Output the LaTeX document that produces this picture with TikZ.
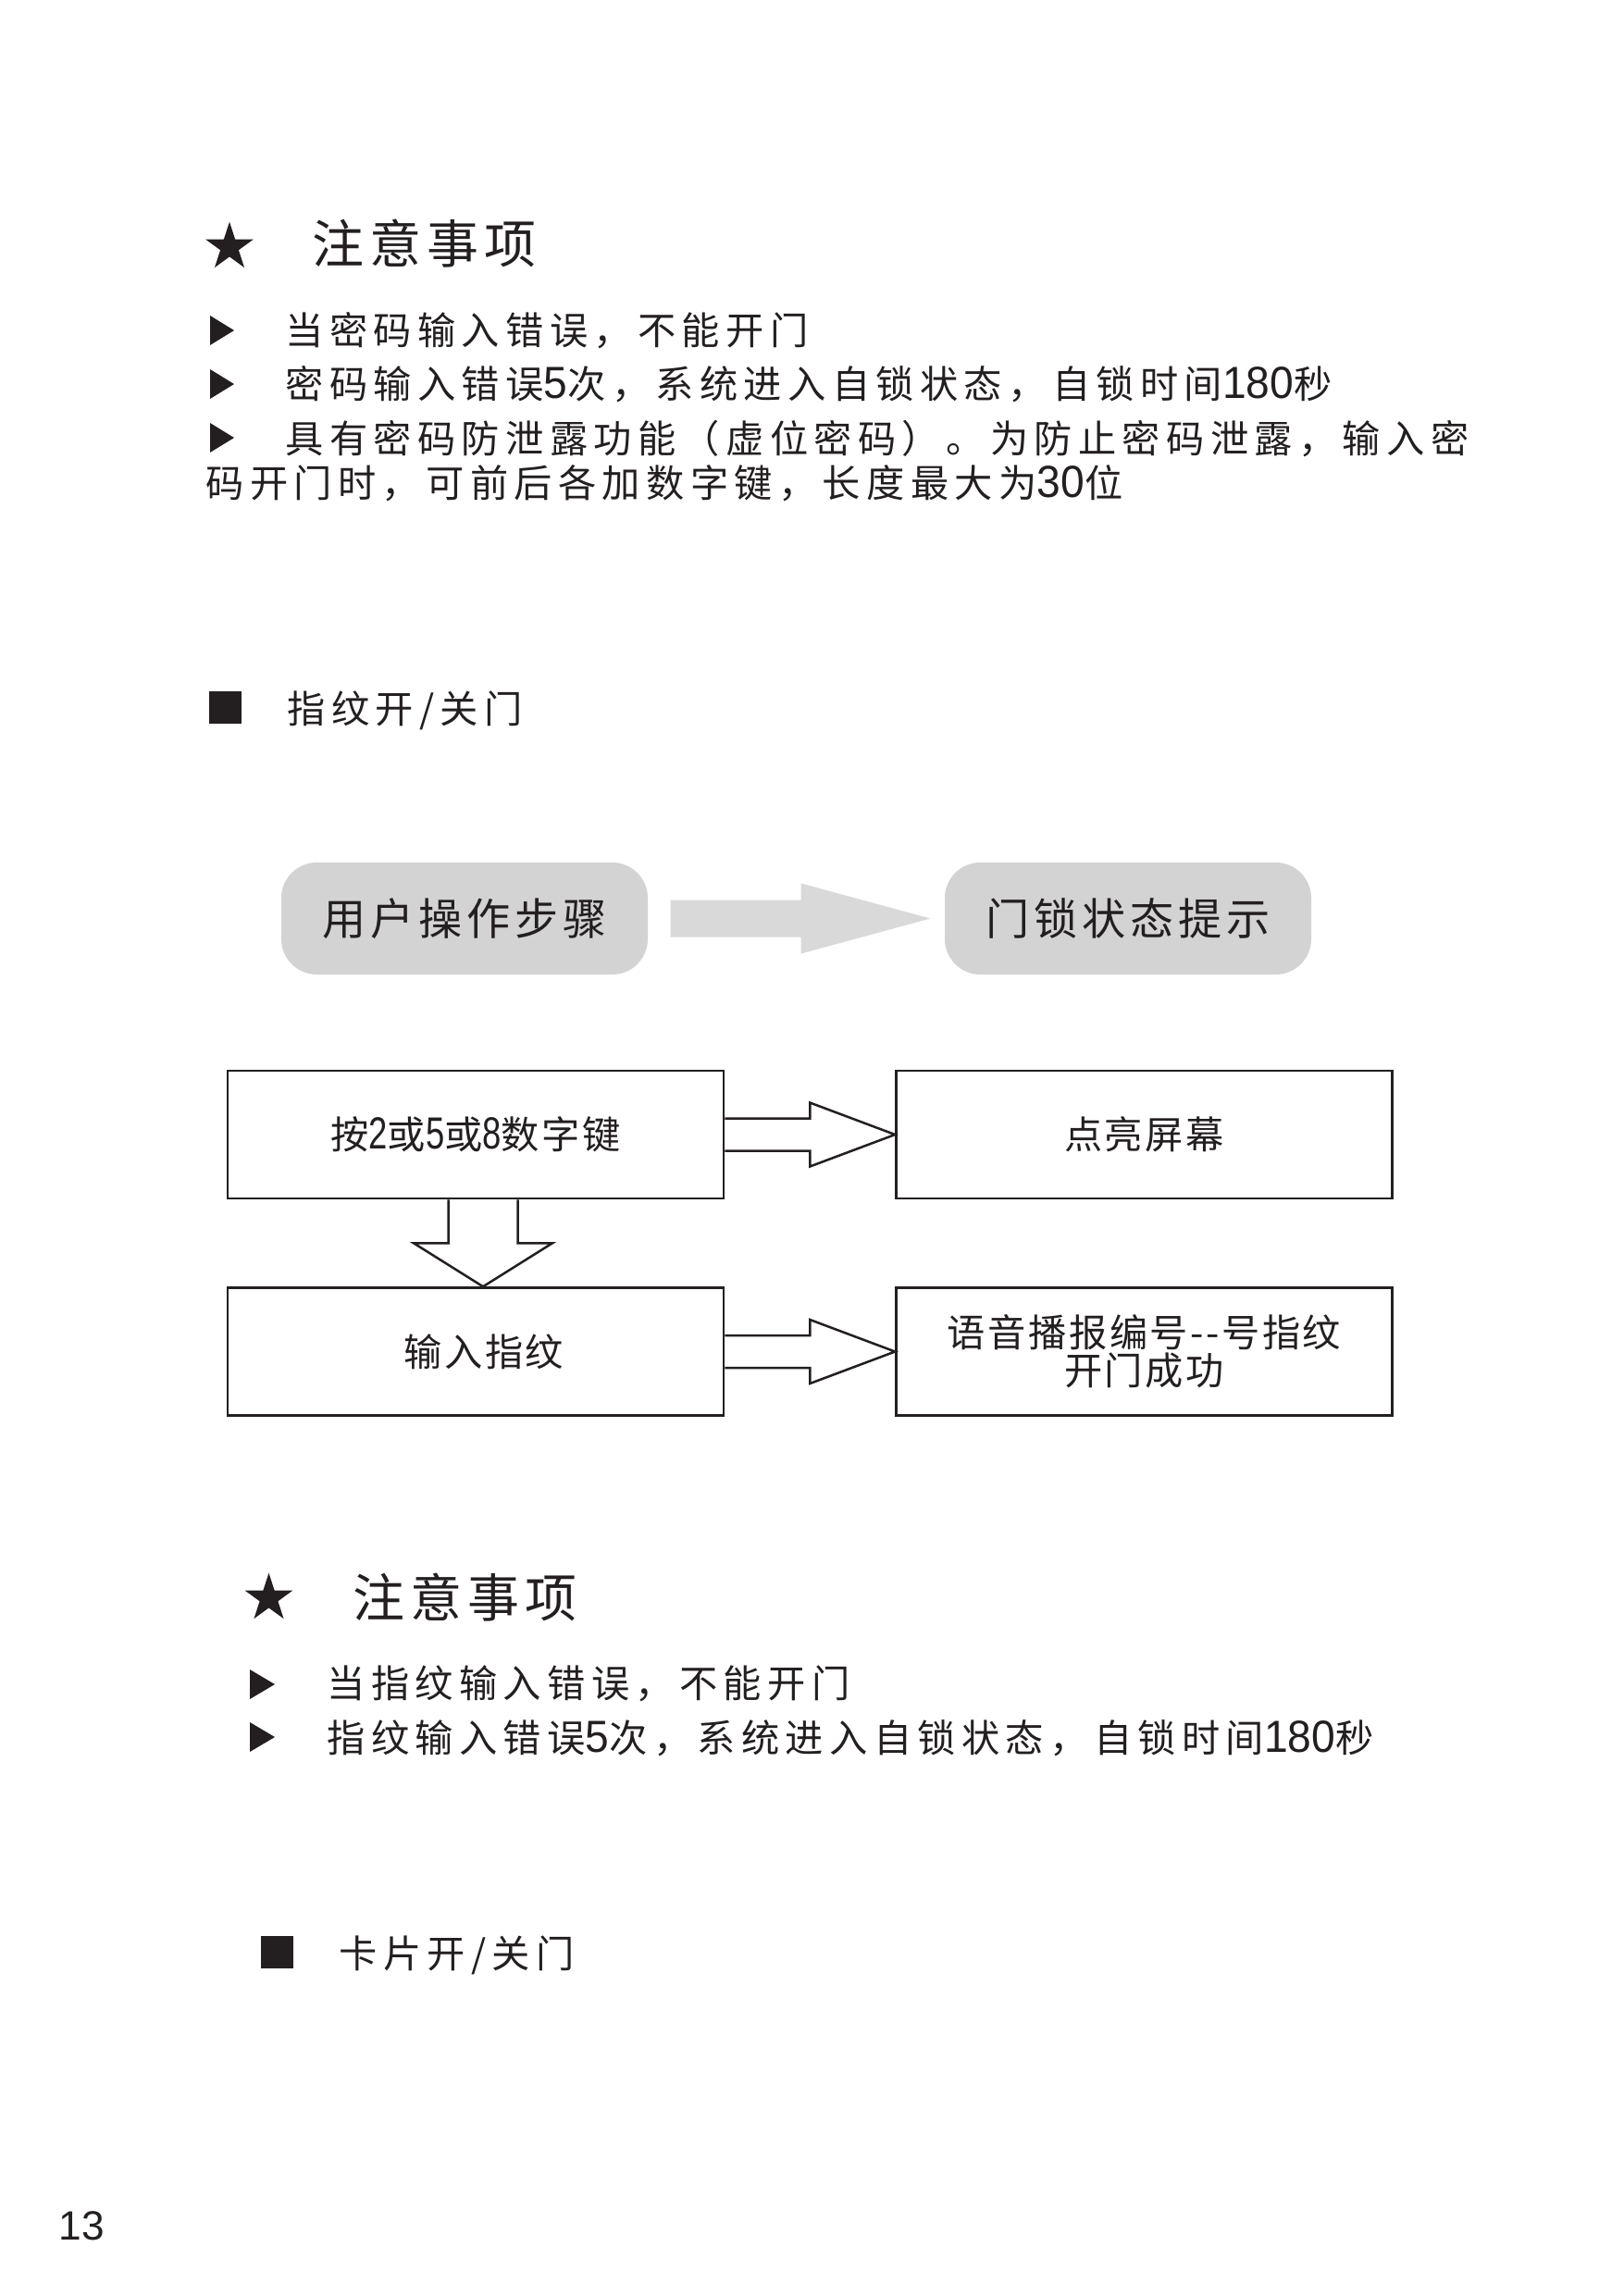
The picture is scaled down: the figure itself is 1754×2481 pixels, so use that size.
\documentclass[tikz,border=0pt]{standalone}
\usepackage{fontspec}
\usetikzlibrary{calc,shapes.geometric}
\newfontfamily\cjkH[LetterSpace=10.7]{Noto Sans CJK SC}
\newfontfamily\cjkB[LetterSpace=15.4]{Noto Sans CJK SC}
\newfontfamily\cjkG[LetterSpace=10]{Noto Sans CJK SC}
\newfontfamily\cjkF[LetterSpace=6.2]{Noto Sans CJK SC}
\newfontfamily\dgt[FakeStretch=0.95]{Liberation Sans}
\newfontfamily\dgtb[FakeStretch=0.75]{Liberation Sans}
\newfontfamily\pnfont{Liberation Sans}
\newcommand\dg[1]{{\dgt\fontsize{16.5pt}{18pt}\selectfont #1}}
\newcommand\dgb[1]{{\dgtb\fontsize{16.5pt}{18pt}\selectfont #1}}
\definecolor{ink}{RGB}{35,31,32}
\definecolor{boxgray}{RGB}{211,211,211}
\definecolor{arrgray}{RGB}{217,217,217}
\begin{document}
\begin{tikzpicture}[x=0.3394pt,y=-0.3394pt,
  heading/.style={anchor=base west, inner sep=0pt, text=ink, font=\cjkH\fontsize{19pt}{22pt}\selectfont},
  body/.style={anchor=base west, inner sep=0pt, text=ink, font=\cjkB\fontsize{14pt}{17pt}\selectfont},
  pill/.style={fill=boxgray, rounded corners=13pt, minimum width={396*0.3394pt}, minimum height={121*0.3394pt}, inner sep=0pt, text=ink, font=\cjkG\fontsize{16pt}{18pt}\selectfont},
  stepbox/.style={draw=ink, line width=0.85pt, minimum width={536*0.3394pt}, minimum height={138*0.3394pt}, inner sep=0pt, align=center, text=ink, font=\cjkF\fontsize{14pt}{13.9pt}\selectfont},
  openarrow/.style={draw=ink, line width=0.85pt, line join=miter},
  starmark/.style={star, star points=5, star point ratio=2.618, fill=ink, draw=none, inner sep=0pt, minimum size={54.6*0.3394pt}},
  sqmark/.style={fill=ink, draw=none, inner sep=0pt, minimum size={35*0.3394pt}}
]
\fill[white] (0,0) rectangle (1754,2481);
\useasboundingbox (0,0) rectangle (1754,2481);

% ---------- section 1: notes ----------
\node[starmark] (s1) at (248,267) {};
\node[heading] (h1) at (337,284) {注意事项};
\fill[ink] (227,341) -- (253,357) -- (227,373) -- cycle;
\node[body] (l1) at (308,372) {当密码输入错误，不能开门};
\fill[ink] (227,399) -- (253,415) -- (227,431) -- cycle;
\node[body] (l2) at (308,430) {密码输入错误\dg{5}次，系统进入自锁状态，自锁时间\dg{180}秒};
\fill[ink] (227,457) -- (253,473) -- (227,489) -- cycle;
\node[body] (l3) at (308,489) {具有密码防泄露功能（虚位密码）。为防止密码泄露，输入密};
\node[body] (l4) at (222,537) {码开门时，可前后各加数字键，长度最大为\dg{30}位};

% ---------- fingerprint section ----------
\node[sqmark] (q1) at (243.5,764.5) {};
\node[body] (t1) at (310,781) {指纹开/关门};

\node[pill] (g1) at (502,992.5) {用户操作步骤};
\node[pill] (g2) at (1219,992.5) {门锁状态提示};
\fill[arrgray] ($(g1.east)+(24,-20)$) -- ++(141,0) -- ++(0,-18)
  -- ($(g2.west)+(-15,0)$) -- ($(g1.east)+(165,38)$) -- ++(0,-18)
  -- ($(g1.east)+(24,20)$) -- cycle;

\node[stepbox] (b1) at (514,1226) {按\dgb{2}或\dgb{5}或\dgb{8}数字键};
\node[stepbox] (b2) at (1236.5,1226) {点亮屏幕};
\node[stepbox] (b3) at (514,1460.5) {\hspace*{6pt}输入指纹};
\node[stepbox] (b4) at (1236.5,1460.5) {语音播报编号-{}-号指纹\\开门成功};

\draw[openarrow] ($(b1.east)+(0,-17.5)$) -- ++(92,0) -- ++(0,-17) -- (b2.west)
  -- ($(b1.east)+(92,34.5)$) -- ++(0,-17) -- ($(b1.east)+(0,17.5)$);
\draw[openarrow] ($(b3.east)+(0,-17.5)$) -- ++(92,0) -- ++(0,-17) -- (b4.west)
  -- ($(b3.east)+(92,34.5)$) -- ++(0,-17) -- ($(b3.east)+(0,17.5)$);
\draw[openarrow] ($(b1.south)+(-29.5,0)$) -- ++(0,47) -- ++(-37.5,0) -- ($(b3.north)+(8,0)$)
  -- ($(b1.south)+(83,47)$) -- ++(-37.5,0) -- ($(b1.south)+(45.5,0)$);

% ---------- section 2: notes ----------
\node[starmark] (s2) at (290.5,1727) {};
\node[heading] (h2) at (381,1747) {注意事项};
\fill[ink] (270,1804) -- (297,1820) -- (270,1836) -- cycle;
\node[body] (m1) at (353,1834) {当指纹输入错误，不能开门};
\fill[ink] (270,1861) -- (297,1877) -- (270,1893) -- cycle;
\node[body] (m2) at (353,1893) {指纹输入错误\dg{5}次，系统进入自锁状态，自锁时间\dg{180}秒};

% ---------- card section ----------
\node[sqmark] (q2) at (299,2109.5) {};
\node[body] (t2) at (366,2126) {卡片开/关门};

% ---------- page number ----------
\node[anchor=base west, inner sep=0pt, text=ink, font=\pnfont\fontsize{15pt}{18pt}\selectfont] (pn) at (63,2420) {13};
\end{tikzpicture}
\end{document}
